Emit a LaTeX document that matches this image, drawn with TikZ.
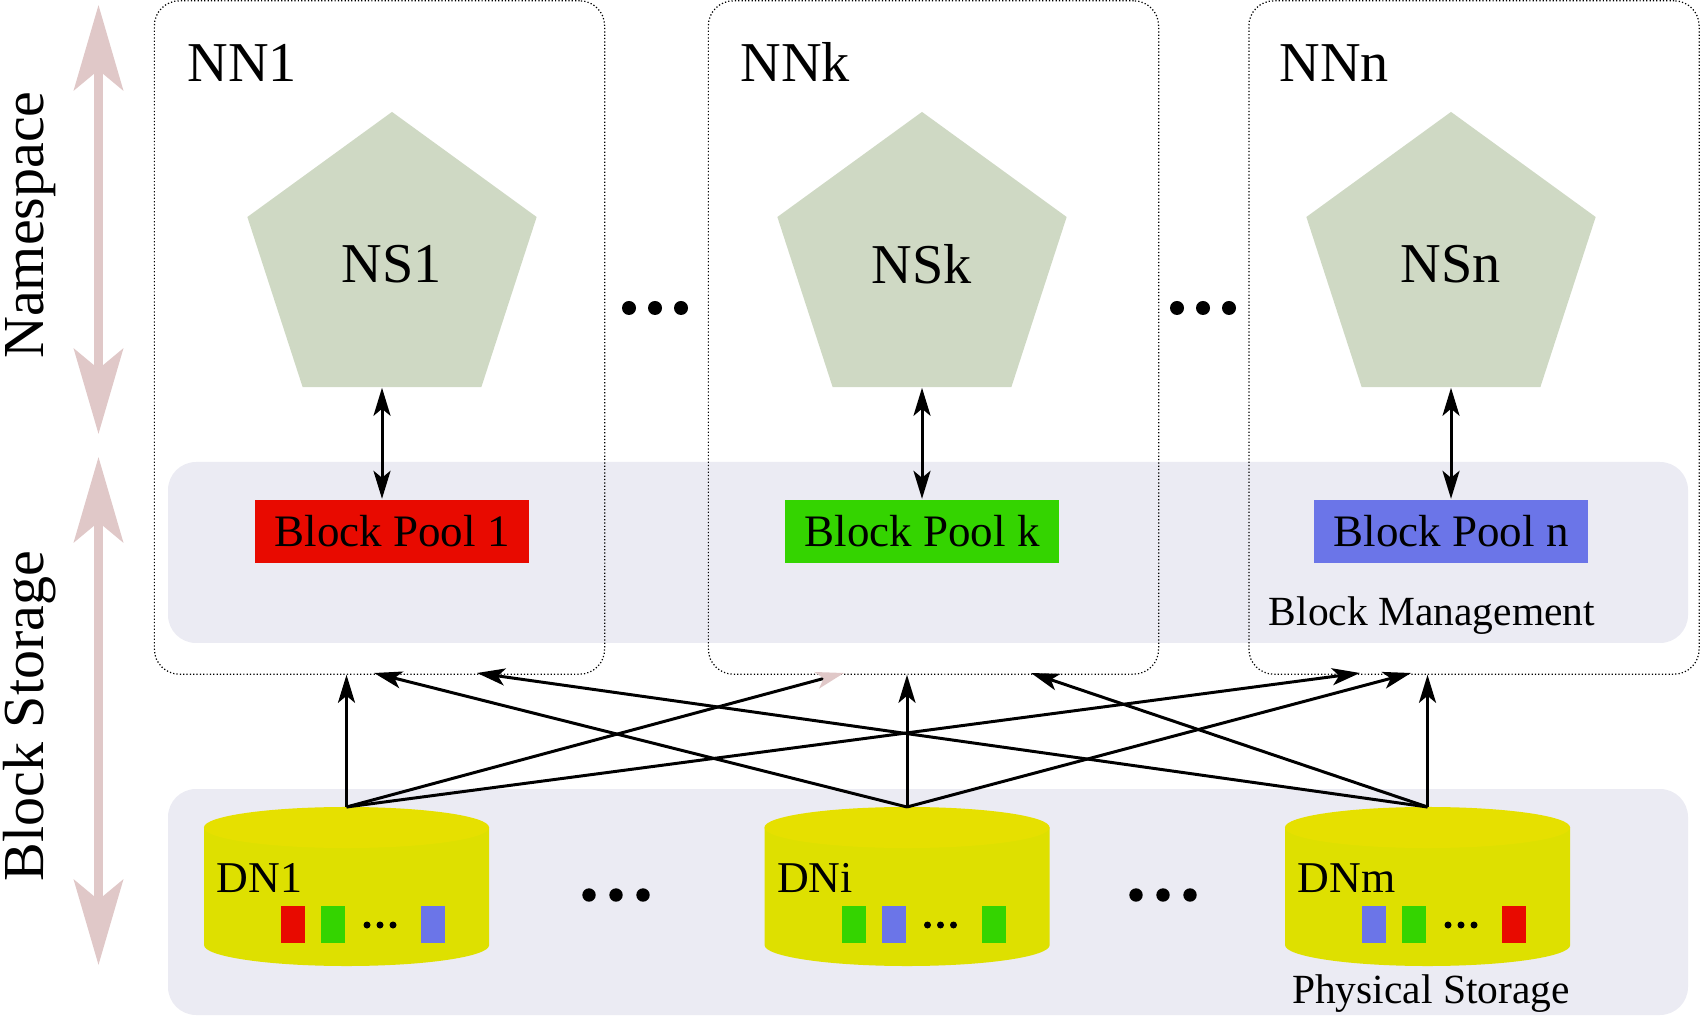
\documentclass[tikz,border=0pt]{standalone}
\usepackage{fontspec}
\setmainfont{Liberation Serif}
\usepackage{tikz}
\usetikzlibrary{positioning,arrows.meta,shapes.geometric}
\usepackage{xcolor}
\definecolor{bandgray}{RGB}{235,235,243}
\definecolor{scalepink}{RGB}{224,200,200}
\definecolor{nsgreen}{RGB}{207,217,196}
\definecolor{dnyellow}{RGB}{222,224,0}
\definecolor{dntop}{RGB}{230,224,0}
\definecolor{poolred}{RGB}{232,10,0}
\definecolor{poolgreen}{RGB}{52,212,0}
\definecolor{poolblue}{RGB}{107,117,232}

\begin{document}
\begin{tikzpicture}[x=0.01cm,y=0.01cm,>={Stealth[length=2.8mm,width=1.7mm,inset=0.7mm]},
  nnbox/.style={draw,line width=0.35pt,dash pattern=on 0.35pt off 0.6pt,rounded corners=2.5mm,minimum width=45mm,minimum height=67.3mm,inner sep=0pt},
  nnlabel/.style={anchor=base west,inner sep=0pt,font=\fontsize{16}{19}\selectfont},
  nsshape/.style={regular polygon,regular polygon sides=5,fill=nsgreen,minimum size=30.4mm,inner sep=0pt,font=\fontsize{16}{19}\selectfont},
  pool/.style={minimum width=27.3mm,minimum height=6.3mm,inner sep=0pt,font=\fontsize{12.8}{15}\selectfont},
  dnlink/.style={->,line width=0.85pt},
  sidearrow/.style={line width=0.9mm,scalepink,{Stealth[length=8.5mm,width=4.9mm,inset=2mm]}-{Stealth[length=8.5mm,width=4.9mm,inset=2mm]}},
  sidelabel/.style={rotate=90,anchor=base,inner sep=0pt,font=\fontsize{16.5}{20}\selectfont},
  smalltext/.style={anchor=base,inner sep=0pt,font=\fontsize{11.8}{14}\selectfont}]
\useasboundingbox (0,0) rectangle (1700,-1016);
% background bands
\fill[bandgray,rounded corners=2.8mm] (168,-462) rectangle (1688,-643);
\fill[bandgray,rounded corners=2.8mm] (168,-789) rectangle (1688,-1015);
\node[smalltext] (bm) at (1432,-626) {Block Management};
\node[smalltext] (ps) at (1431,-1003) {Physical Storage};

% side scales
\coordinate (ns-top) at (98.5,-5);
\coordinate (ns-bot) at (98.5,-434);
\coordinate (bs-top) at (98.5,-457);
\coordinate (bs-bot) at (98.5,-965);
\draw[sidearrow] (ns-top) -- (ns-bot);
\draw[sidearrow] (bs-top) -- (bs-bot);
\node[sidelabel] (lns) at (44,-225) {Namespace};
\node[sidelabel] (lbs) at (44,-716) {Block Storage};

% name nodes
\node[nnbox] (nn1) at (379.5,-337.5) {};
\node[nnbox] (nnk) at (933.5,-337.5) {};
\node[nnbox] (nnn) at (1474,-337.5) {};
\node[nnlabel] (lnn1) at (187,-82) {NN1};
\node[nnlabel] (lnnk) at (740,-82) {NNk};
\node[nnlabel] (lnnn) at (1279,-82) {NNn};

\node[nsshape] (ns1) at (392,-264) {NS1};
\node[nsshape] (nsk) at (922,-264) {NSk};
\node[nsshape] (nsn) at (1451,-264) {NSn};
\node[pool,fill=poolred,below=11.1mm of ns1] (bp1) {Block Pool 1};
\node[pool,fill=poolgreen,below=11.1mm of nsk] (bpk) {Block Pool k};
\node[pool,fill=poolblue,below=11.1mm of nsn] (bpn) {Block Pool n};
\draw[<->,line width=0.85pt] ([xshift=-1mm]ns1.south) -- ([xshift=-1mm]bp1.north);
\draw[<->,line width=0.85pt] (nsk.south) -- (bpk.north);
\draw[<->,line width=0.85pt] (nsn.south) -- (bpn.north);

\foreach \x in {629,655,681,1177,1203,1229} \fill (\x,-308) circle (0.7mm);
\foreach \x in {589,616,643,1136,1163,1190} \fill (\x,-895) circle (0.67mm);

% data nodes
\foreach \cx/\nm/\lab/\ca/\cb/\cc in {346.5/dn1/DN1/poolred/poolgreen/poolblue,907/dni/DNi/poolgreen/poolblue/poolgreen,1427.5/dnm/DNm/poolblue/poolgreen/poolred}{
  \fill[dnyellow] (\cx-142.5,-827.5) -- (\cx-142.5,-945) arc[start angle=180,end angle=360,x radius=14.25mm,y radius=2.1mm] -- (\cx+142.5,-827.5) -- cycle;
  \fill[dntop] (\cx,-827.5) ellipse[x radius=14.25mm,y radius=2.05mm];
  \coordinate (\nm) at (\cx,-807);
  \node[anchor=base west,inner sep=0pt,font=\fontsize{12.5}{15}\selectfont] (\nm-lab) at (\cx-130.5,-892) {\lab};
  \fill[\ca] (\cx-65.5,-906) rectangle ++(24,-37);
  \fill[\cb] (\cx-25.5,-906) rectangle ++(24,-37);
  \fill[\cc] (\cx+74.5,-906) rectangle ++(24,-37);
  \foreach \d in {20.5,33.5,46.5} \fill (\cx+\d,-925) circle (0.35mm);
}

\coordinate (t1i) at (374,-673);
\coordinate (t1m) at (477,-673);
\coordinate (tk1) at (844,-673);
\coordinate (tkm) at (1031,-673);
\coordinate (tn1) at (1360,-673);
\coordinate (tni) at (1411,-673);
\draw[dnlink] (dn1) -- (dn1 |- nn1.south);
\draw[dnlink] (dni) -- (dni |- nnk.south);
\draw[dnlink] (dnm) -- (dnm |- nnn.south);
\draw[dnlink,-{Stealth[length=2.8mm,width=1.7mm,inset=0.7mm,color=scalepink]}] (dn1) -- (tk1);
\draw[dnlink] (dn1) -- (tn1);
\draw[dnlink] (dni) -- (t1i);
\draw[dnlink] (dni) -- (tni);
\draw[dnlink] (dnm) -- (t1m);
\draw[dnlink] (dnm) -- (tkm);
\end{tikzpicture}
\end{document}
